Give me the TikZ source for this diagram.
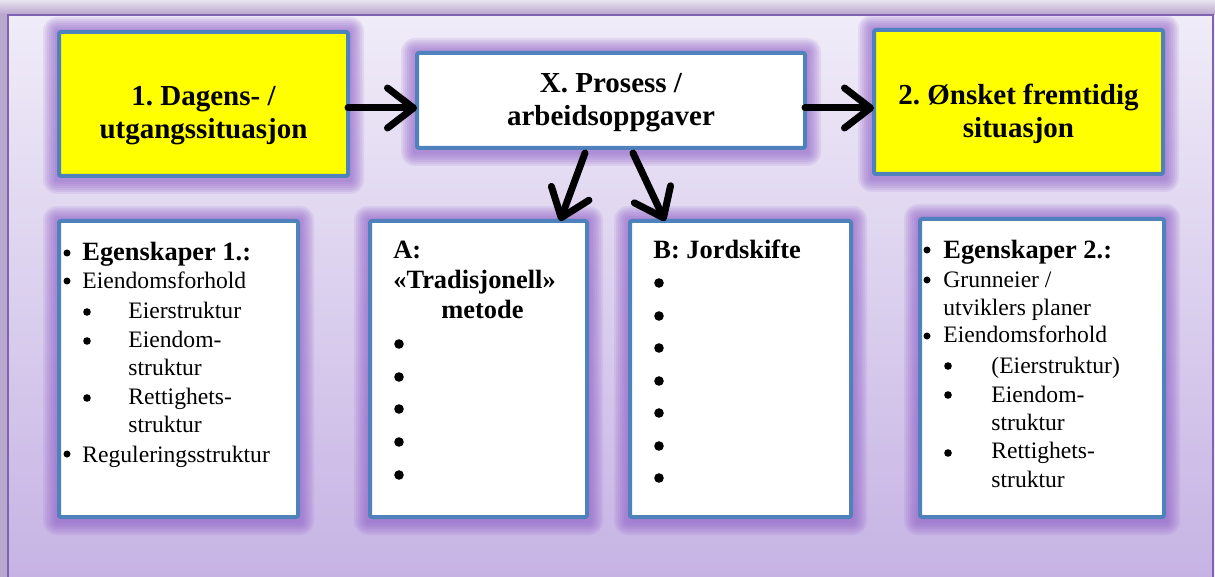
\documentclass[tikz,border=0pt]{standalone}
\usepackage{fontspec}
\setmainfont{Liberation Serif}
\usetikzlibrary{arrows.meta,calc}
\frenchspacing

\definecolor{boxblue}{HTML}{4F81BD}
\definecolor{glowc}{HTML}{9060C8}
\definecolor{bgtop}{HTML}{F0ECF8}
\definecolor{bgmid}{HTML}{DDD3EE}
\definecolor{bgbot}{HTML}{C6B3E4}
\definecolor{framec}{HTML}{8062B2}
\definecolor{stripA}{HTML}{E9E3EE}
\definecolor{stripB}{HTML}{B8A4CE}
\definecolor{sideC}{HTML}{BAA9CE}
\definecolor{boxyellow}{HTML}{FFFF00}

\tikzset{
  panelbox/.style={draw=boxblue, line width=2pt, rounded corners=1pt,
    inner sep=0pt, outer sep=0pt},
  title/.style={font=\fontsize{14.5}{16.5}\selectfont\bfseries, align=center,
    inner sep=0pt},
  itemtxt/.style={font=\fontsize{11.8}{14}\selectfont, anchor=base west,
    inner sep=0pt},
  headtxt/.style={font=\fontsize{13.2}{16}\selectfont\bfseries,
    anchor=base west, inner sep=0pt},
  flow/.style={line width=3.5pt, line cap=round,
    -{Straight Barb[length=13pt,width=20pt,round]}},
}

% panel with a soft purple glow: name, x1, y1, x2, y2 (outer edges, px), fill
\newcommand\panel[6]{%
  \foreach \g in {14,12,...,2}{%
    \fill[glowc, opacity=0.13, rounded corners={\g*0.5pt}]
      (#2-\g,#3-\g+1) rectangle (#4+\g,#5+\g+2);}
  \node[panelbox, fill=#6,
    minimum width={(#4-#2-4)*0.5pt}, minimum height={(#5-#3-4)*0.5pt}]
    (#1) at ({(#2+#4)/2},{(#3+#5)/2}) {};}

\begin{document}
\begin{tikzpicture}[x=0.5pt,y=-0.5pt]
\useasboundingbox (0,0) rectangle (1215,577);

% frame and background
\shade[top color=stripA, bottom color=stripB] (0,0) rectangle (1215,15);
\fill[sideC] (0,15) rectangle (8,577);
\fill[bgtop] (1213,15) rectangle (1215,577);
\shade[top color=bgtop, middle color=bgmid, bottom color=bgbot]
  (8,15) rectangle (1213,577);
\draw[framec, line width=1pt] (8,577) -- (8,15) -- (1213,15) -- (1213,577);

% panels
\panel{b1}{57}{30}{350}{178}{boxyellow}
\panel{bx}{415}{51}{807}{150}{white}
\panel{b2}{872}{28}{1165}{176}{boxyellow}
\panel{e1}{57}{219}{300}{519}{white}
\panel{ba}{368}{219}{589}{519}{white}
\panel{bb}{628}{219}{853}{519}{white}
\panel{e2}{918}{217}{1166}{519}{white}

% titles of the top row
\node[title] (t1) at ($(b1)+(0,11.5)$) {1. Dagens- /\\utgangssituasjon};
\node[title] (tx) at ($(bx)+(0,2)$) {X. Prosess /\\arbeidsoppgaver};
\node[title] (t2) at ($(b2)+(0,11.5)$) {2. Ønsket fremtidig\\situasjon};

% connectors
\coordinate (arrowrow) at (0,108);
\draw[flow] (b1.east |- arrowrow) -- (bx.west |- arrowrow);
\draw[flow] (bx.east |- arrowrow) -- (b2.west |- arrowrow);
\draw[flow] ([xshift=-13pt,yshift=-2.5pt]bx.south) -- ([xshift=-13.5pt]ba.north east);
\draw[flow] ([xshift=11pt,yshift=-2.5pt]bx.south) -- ([xshift=17.5pt]bb.north west);

% properties of the present situation
\node[headtxt] (e1h) at (82,261) {Egenskaper 1.:};
\node[itemtxt] (e1a) at (82,289) {Eiendomsforhold};
\node[itemtxt] (e1b) at (128,318) {Eierstruktur};
\node[itemtxt] (e1c) at (128,347) {Eiendom-};
\node[itemtxt] (e1d) at (128,375) {struktur};
\node[itemtxt] (e1e) at (128,404) {Rettighets-};
\node[itemtxt] (e1f) at (128,432) {struktur};
\node[itemtxt] (e1g) at (82,462) {Reguleringsstruktur};
\foreach \yy in {253,281,454} \fill (67,\yy) circle (3.5);
\foreach \yy in {312,341,398} \fill (87,\yy) circle (3.8);

% method A
\node[headtxt] (hA1) at (393,258) {A:};
\node[headtxt] (hA2) at (393,288) {«Tradisjonell»};
\node[headtxt] (hA3) at (441,318) {metode};
\foreach \yy in {344,377,409,442,475} \fill (399,\yy) circle (4.8);

% method B
\node[headtxt] (hB) at (653,258) {B: Jordskifte};
\foreach \yy in {283,316,348,381,413,446,478} \fill (659,\yy) circle (4.8);

% properties of the desired situation
\node[headtxt] (e2h) at (943,258) {Egenskaper 2.:};
\node[itemtxt] (e2a) at (943,287) {Grunneier /};
\node[itemtxt] (e2b) at (943,315) {utviklers planer};
\node[itemtxt] (e2c) at (943,343) {Eiendomsforhold};
\node[itemtxt] (e2d) at (991,373) {(Eierstruktur)};
\node[itemtxt] (e2e) at (991,402) {Eiendom-};
\node[itemtxt] (e2f) at (991,430) {struktur};
\node[itemtxt] (e2g) at (991,458) {Rettighets-};
\node[itemtxt] (e2h2) at (991,487) {struktur};
\foreach \yy in {250,280,336} \fill (927,\yy) circle (3.5);
\foreach \yy in {366,395,453} \fill (948,\yy) circle (3.8);
\end{tikzpicture}
\end{document}
